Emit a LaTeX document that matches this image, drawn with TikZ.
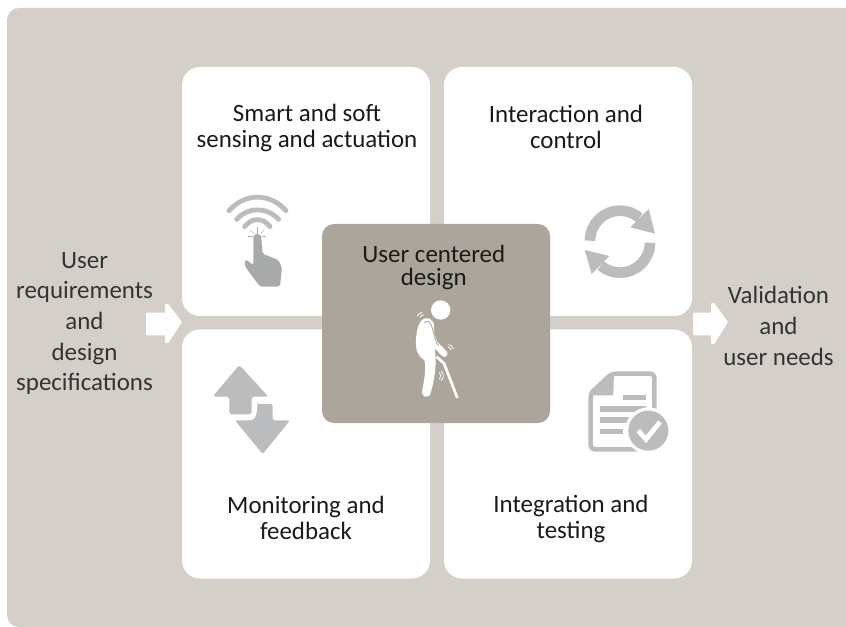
\documentclass[tikz,border=0pt]{standalone}
\usepackage{fontspec}
\setmainfont{Carlito}
\definecolor{bgc}{HTML}{D5CFC9}
\definecolor{midc}{HTML}{ACA59B}
\definecolor{icon}{HTML}{BABCBD}
\definecolor{hand}{HTML}{A8AAAA}
\definecolor{txt}{HTML}{1A1A1A}
\definecolor{sidetxt}{HTML}{333333}
\tikzset{
  panel/.style={draw=none,fill=white,rounded corners=13.5pt,minimum width=186pt,minimum height=186.75pt,inner sep=0pt},
  center box/.style={draw=none,fill=midc,rounded corners=9pt,minimum width=171pt,minimum height=149.25pt,inner sep=0pt},
  label/.style={align=center,text=txt,font=\fontsize{18.7}{19}\selectfont,inner sep=0pt},
  side label/.style={align=center,text=sidetxt,font=\fontsize{18.7}{23}\selectfont,inner sep=0pt},
  zoomed/.style={x=.25pt,y=-.25pt},
  flow arrow/.style={fill=white,draw=white,line width=1.2pt,line join=round}
}
\begin{document}
\begin{tikzpicture}[x=.75pt,y=-.75pt]
\useasboundingbox (0,0) rectangle (846,627);
\fill[white] (0,0) rectangle (846,627);
\fill[bgc,rounded corners=9pt] (7,8) rectangle (870,627);
% panels
\node[panel] (tl) at (306,191.5) {};
\node[panel] (tr) at (568,191.5) {};
\node[panel] (bl) at (306,454) {};
\node[panel] (br) at (568,454) {};
\node[center box] (mid) at (436,323.5) {};
% arrows
\fill[flow arrow] (147,313.5) -- (166,313.5) -- (166,305) -- (168,305) -- (181,322) -- (168,342) -- (166,342) -- (166,334.5) -- (147,334.5) -- cycle;
\fill[flow arrow] (694,313.5) -- (712,313.5) -- (712,304) -- (714,304) -- (727,322) -- (714,343) -- (712,343) -- (712,334.5) -- (694,334.5) -- cycle;
% texts
\node[label] (t1) at (307,128) {Smart and soft\\sensing and actuation};
\node[label] (t2) at (566,127) {Interaction and\\control};
\node[label] (t3) at (306,518) {Monitoring and\\feedback};
\node[label,font=\fontsize{18.7}{19.5}\selectfont] (t4) at (571,519) {Integration and\\testing};
\node[label,font=\fontsize{18.7}{17}\selectfont] (t5) at (433.8,267.5) {User centered\\design};
\node[side label] (t6) at (84.5,323.5) {User\\requirements\\and\\design\\specifications};
\node[side label] (t7) at (778.5,326) {Validation\\and\\user needs};
% hand icon
\begin{scope}[shift={(200,180)},zoomed]
  \draw[icon,line width=3.6pt,line cap=round] (87,92) .. controls (135,38) and (210,38) .. (258,92);
  \draw[icon,line width=3.6pt,line cap=round] (110,118) .. controls (145,80) and (200,80) .. (236,118);
  \draw[icon,line width=3.6pt,line cap=round] (134,140) .. controls (155,112) and (190,112) .. (210,140);
  \fill[hand,rounded corners=1.5pt] (172,164) .. controls (180,164) and (184,170) .. (184,178) -- (188,222) -- (205,228) -- (235,240) -- (246,262) -- (240,320) -- (180,320) -- (150,280) -- (133,255) -- (137,238) -- (160,255) -- (160,178) .. controls (160,170) and (165,164) .. (172,164) -- cycle;
  \draw[hand,line width=.5pt] (172,142) -- (172,158) (145,168) -- (160,168) (185,168) -- (198,168);
  \draw[icon,line width=.4pt] (150,150) -- (162,160) (193,150) -- (182,160);
\end{scope}
% refresh icon
\begin{scope}[shift={(570,190)},zoomed]
  \draw[icon,line width=8pt] (60,152) arc[start angle=180,end angle=310,radius=90];
  \draw[icon,line width=8pt] (240,158) arc[start angle=0,end angle=130,radius=90];
  \fill[icon] (236,57) -- (255,131) -- (181,112) -- cycle;
  \fill[icon] (44,180) -- (118,198) -- (65,252) -- cycle;
\end{scope}
% up/down arrows icon
\begin{scope}[shift={(200,350)},zoomed]
  \fill[icon,rounded corners=2pt] (118,45) -- (205,140) -- (155,140) -- (155,193) -- (88,193) -- (88,140) -- (38,140) -- cycle;
  \fill[icon,rounded corners=1.5pt] (172,162) -- (218,162) -- (218,211) -- (270,211) -- (188,312) -- (105,211) -- (150,211) .. controls (165,208) and (172,195) .. (172,162) -- cycle;
\end{scope}
% document icon
\begin{scope}[shift={(570,360)},zoomed]
  \draw[icon,line width=3.4pt,line join=round,rounded corners=3pt] (125,41) -- (253,41) -- (253,268) -- (62,268) -- (62,100) -- cycle;
  \fill[icon,rounded corners=1pt] (120,45) -- (132,40) -- (130,106) -- (60,106) -- (60,92) -- cycle;
  \fill[icon] (160,104) rectangle (228,121);
  \fill[icon] (90,138) rectangle (228,155);
  \fill[icon] (90,172) rectangle (190,190);
  \fill[icon] (90,207) rectangle (160,223);
  \fill[white] (235,212) circle[radius=70];
  \fill[icon] (235,212) circle[radius=60];
  \draw[white,line width=3.6pt] (205,212) -- (228,238) -- (270,186);
\end{scope}
% person
\begin{scope}[shift={(380,280)},zoomed]
  \fill[white] (182,90) circle[radius=29];
  \fill[white] (135,115) .. controls (160,112) and (165,130) .. (162,165) .. controls (160,190) and (170,225) .. (166,265) .. controls (163,300) and (155,330) .. (150,345) .. controls (140,355) and (122,350) .. (127,330) .. controls (135,290) and (138,260) .. (133,240) .. controls (105,225) and (105,190) .. (110,160) .. controls (113,135) and (122,118) .. (135,115) -- cycle;
  \draw[white,line width=4.8pt,line cap=round,line join=round] (147,145) -- (163,190) -- (193,221);
  \draw[midc,line width=.6pt] (133,128) .. controls (145,118) and (153,125) .. (158,150) -- (170,190) -- (177,197);
  \draw[white,line width=2pt,line join=round] (169,230) -- (192,250) -- (232,354);
  \draw[white,line width=.6pt] (112,108) .. controls (115,102) and (120,98) .. (127,97);
  \draw[white,line width=.6pt] (120,112) .. controls (122,107) and (126,105) .. (131,104);
  \draw[white,line width=.6pt] (205,194) .. controls (212,194) and (218,200) .. (220,207);
  \draw[white,line width=.6pt] (203,201) .. controls (208,201) and (212,205) .. (213,210);
  \draw[white,line width=.6pt] (178,277) .. controls (184,283) and (184,292) .. (178,298);
  \draw[white,line width=.6pt] (184,274) .. controls (192,283) and (192,292) .. (184,302);
\end{scope}
\end{tikzpicture}
\end{document}
